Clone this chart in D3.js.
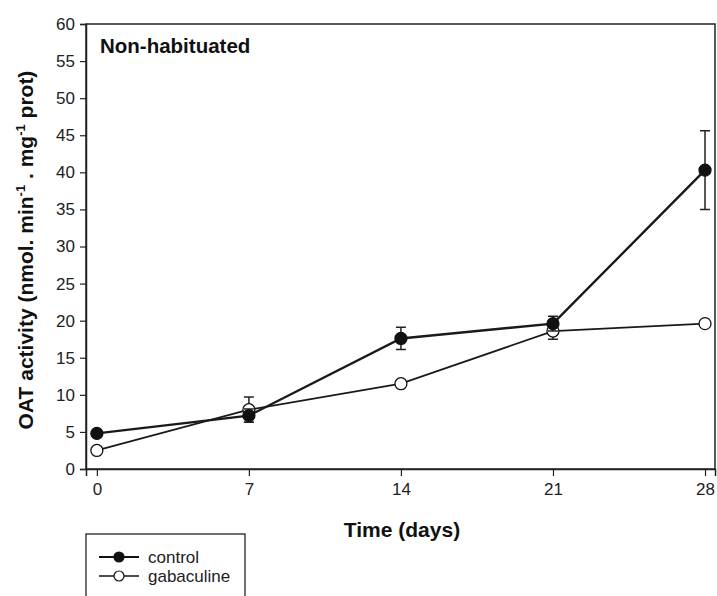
<!DOCTYPE html>
<html>
<head>
<meta charset="utf-8">
<script src="https://cdn.jsdelivr.net/npm/d3@7"></script>
<style>
  body { margin: 0; background: #fff; }
  svg { font-family: "Liberation Sans", Arial, sans-serif; }
  .tick text { font-size: 17px; fill: #222; }
  .axis-title { font-size: 21px; font-weight: bold; fill: #111; }
</style>
</head>
<body>
<svg></svg>
<script>
// data
var days = [0, 7, 14, 21, 28];
var controlMean = [4.8, 7.2, 17.6, 19.6, 40.3];
var controlErr  = [0, 0.9, 1.5, 1.0, 5.3];
var gabaMean = [2.5, 8.0, 11.5, 18.6, 19.6];
var gabaErr  = [0, 1.7, 0, 1.1, 0];
var yTicks = [0, 5, 10, 15, 20, 25, 30, 35, 40, 45, 50, 55, 60];
var seriesNames = ["control", "gabaculine"];

var svgWidth = 717, svgHeight = 596;
var plot = {left: 86, right: 715, top: 24, bottom: 469};

var svg = d3.select("svg")
    .attr("width", svgWidth)
    .attr("height", svgHeight);

var x = d3.scaleLinear().domain([-0.5, 28.46]).range([plot.left, plot.right]);
var y = d3.scaleLinear().domain([0, 60]).range([plot.bottom, plot.top]);

// frame
svg.append("rect")
    .attr("x", plot.left).attr("y", plot.top)
    .attr("width", plot.right - plot.left).attr("height", plot.bottom - plot.top)
    .style("fill", "none").style("stroke", "#222").style("stroke-width", 1.5);

// axes
var xAxis = svg.append("g")
    .attr("transform", "translate(0," + plot.bottom + ")")
    .call(d3.axisBottom(x).tickValues(days).tickSize(7).tickPadding(7));
var yAxis = svg.append("g")
    .attr("transform", "translate(" + plot.left + ",0)")
    .call(d3.axisLeft(y).tickValues(yTicks).tickSize(6).tickPadding(5));
[xAxis, yAxis].forEach(function(a){
  a.select(".domain").style("stroke", "#222").style("stroke-width", 1.5);
  a.selectAll(".tick line").style("stroke", "#222").style("stroke-width", 1.2);
  a.selectAll(".tick text").style("font-family", "'Liberation Sans', Arial, sans-serif");
});

// titles
svg.append("text")
    .attr("class", "axis-title")
    .attr("x", 402).attr("y", 537)
    .attr("text-anchor", "middle")
    .text("Time (days)");

var yt = svg.append("text")
    .attr("class", "axis-title")
    .attr("transform", "translate(33,250) rotate(-90)")
    .attr("text-anchor", "middle");
yt.append("tspan").text("OAT activity (nmol. min");
yt.append("tspan").attr("dy", -8).style("font-size", "13px").text("-1");
yt.append("tspan").attr("dy", 8).text(" . mg");
yt.append("tspan").attr("dy", -8).style("font-size", "13px").text("-1");
yt.append("tspan").attr("dy", 8).text(" prot)");

svg.append("text")
    .attr("x", 100).attr("y", 53)
    .style("font-size", "20.5px").style("font-weight", "bold").style("fill", "#111")
    .text("Non-habituated");

// series
function drawSeries(means, errs, filled, width) {
  var pts = days.map(function(d, i){ return {day: d, v: means[i], e: errs[i]}; });
  var g = svg.append("g");

  g.selectAll(".err")
      .data(pts.filter(function(p){ return p.e > 0; }))
      .enter().append("path")
      .attr("d", function(p){
        var cx = x(p.day), t = y(p.v + p.e), b = y(p.v - p.e);
        return "M" + (cx - 5) + "," + t + "H" + (cx + 5) +
               "M" + cx + "," + t + "V" + b +
               "M" + (cx - 5) + "," + b + "H" + (cx + 5);
      })
      .style("fill", "none").style("stroke", "#222").style("stroke-width", 1.5);

  g.append("path")
      .datum(pts)
      .attr("d", d3.line().x(function(p){ return x(p.day); }).y(function(p){ return y(p.v); }))
      .style("fill", "none").style("stroke", "#1a1a1a").style("stroke-width", width);

  g.selectAll("circle")
      .data(pts)
      .enter().append("circle")
      .attr("cx", function(p){ return x(p.day); })
      .attr("cy", function(p){ return y(p.v); })
      .attr("r", 6)
      .style("fill", filled ? "#111" : "#fff")
      .style("stroke", "#111").style("stroke-width", 1.3);
}

drawSeries(gabaMean, gabaErr, false, 1.8);
drawSeries(controlMean, controlErr, true, 2.4);

// legend
var legend = svg.append("g");
legend.append("rect")
    .attr("x", 86).attr("y", 534).attr("width", 159).attr("height", 80)
    .style("fill", "#fff").style("stroke", "#222").style("stroke-width", 1.3);

var items = legend.selectAll(".item")
    .data(seriesNames)
    .enter().append("g")
    .attr("transform", function(d, i){ return "translate(0," + (557 + i * 19) + ")"; });
items.append("line")
    .attr("x1", 99).attr("x2", 139)
    .style("stroke", "#111").style("stroke-width", function(d, i){ return i === 0 ? 2 : 1.5; });
items.append("circle")
    .attr("cx", 119).attr("r", 5)
    .style("fill", function(d, i){ return i === 0 ? "#111" : "#fff"; })
    .style("stroke", "#111").style("stroke-width", 1.2);
items.append("text")
    .attr("x", 148).attr("y", 6)
    .style("font-size", "17px").style("fill", "#222")
    .text(function(d){ return d; });
</script>
</body>
</html>
